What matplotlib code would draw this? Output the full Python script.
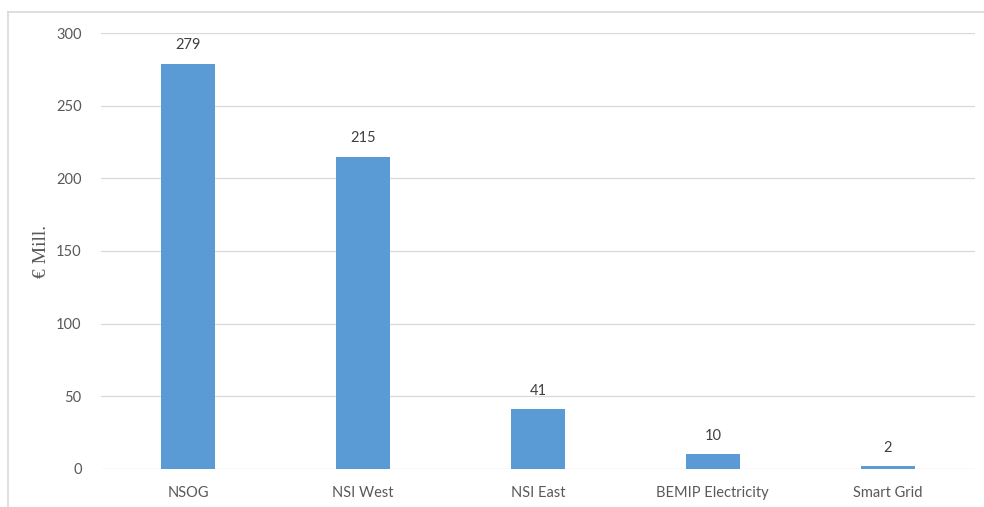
import matplotlib.pyplot as plt
from matplotlib.lines import Line2D

categories = ["NSOG", "NSI West", "NSI East", "BEMIP Electricity", "Smart Grid"]
values = [279, 215, 41, 10, 2]
yticks = [0, 50, 100, 150, 200, 250, 300]

plt.rcParams["font.family"] = ["Lato", "DejaVu Sans"]
grey = "#595959"

fig = plt.figure(figsize=(9.84, 5.07), dpi=100)
ax = fig.add_axes([101 / 984, 38 / 507, 874 / 984, 436 / 507])

bars = ax.bar(range(len(categories)), values, width=0.31, color="#5b9bd5", zorder=2)
for b, v in zip(bars, values):
    ax.annotate(str(v), (b.get_x() + b.get_width() / 2, v), xytext=(0, 8),
                textcoords="offset points", ha="center", va="bottom",
                fontsize=10.5, color="#404040")

ax.set_xlim(-0.5, len(categories) - 0.5)
ax.set_ylim(0, 300)
ax.set_yticks(yticks)
ax.set_xticks(range(len(categories)))
ax.set_xticklabels(categories)
ax.tick_params(length=0, labelsize=10.5, colors=grey, pad=12)
ax.tick_params(axis="y", pad=14)
ax.grid(axis="y", color="#d9d9d9", linewidth=0.9, zorder=0)
for s in ax.spines.values():
    s.set_visible(False)

ax.set_ylabel("€ Mill.", family="Liberation Serif", fontsize=14, color=grey, labelpad=4)

# light chart-area border (left and top)
fig.add_artist(Line2D([8 / 984, 8 / 984], [0, 1 - 12 / 507], transform=fig.transFigure,
                      color="#d9d9d9", linewidth=1.2))
fig.add_artist(Line2D([8 / 984, 1], [1 - 12 / 507, 1 - 12 / 507], transform=fig.transFigure,
                      color="#d9d9d9", linewidth=1.2))

fig.savefig("out.png", dpi=100)
